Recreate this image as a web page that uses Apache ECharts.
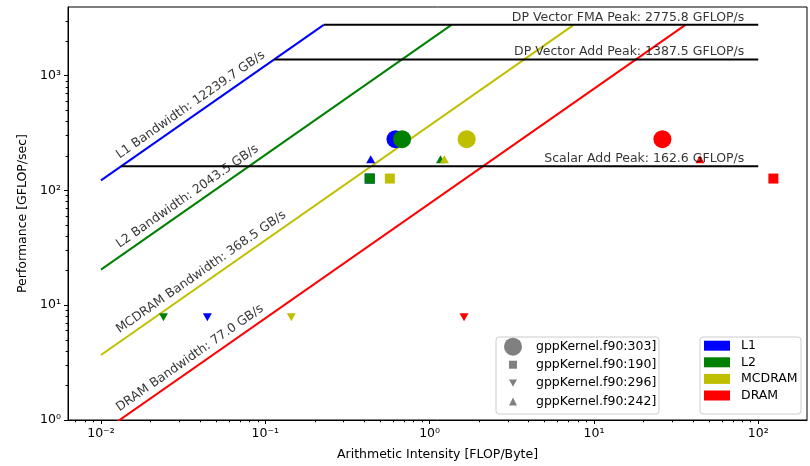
<!DOCTYPE html>
<html><head><meta charset="utf-8">
<script src="https://cdn.jsdelivr.net/npm/echarts@6/dist/echarts.min.js"></script>
<style>html,body{margin:0;padding:0;background:#fff}#c{width:810px;height:466px}</style>
</head><body><div id="c"></div>
<script>
// ---- data ----
const levels = ['L1', 'L2', 'MCDRAM', 'DRAM'];
const levelColors = ['#0000ff', '#008000', '#bfbf00', '#ff0000'];
const bandwidths = [12239.7, 2043.5, 368.5, 77.0];           // GB/s
const peakNames = ['DP Vector FMA Peak', 'DP Vector Add Peak', 'Scalar Add Peak'];
const peaks = [2775.8, 1387.5, 162.6];                        // GFLOP/s
const roofStartAI = 0.01;
const roofEndAI = 100;
const kernels = ['gppKernel.f90:303]', 'gppKernel.f90:190]', 'gppKernel.f90:296]', 'gppKernel.f90:242]'];
// arithmetic intensity per level (L1, L2, MCDRAM, DRAM) and performance
const ai303 = [0.62, 0.68, 1.68, 26.1];
const perf303 = [280, 280, 280, 280];
const ai190 = [0.432, 0.432, 0.573, 123.6];
const perf190 = [127, 127, 127, 127];
const ai296 = [0.0444, 0.0240, 0.144, 1.62];
const perf296 = [7.86, 7.86, 7.86, 7.86];
const ai242 = [0.438, 1.165, 1.23, 44.2];
const perf242 = [187.5, 187.5, 187.5, 187.5];
const xTickValues = [0.01, 0.1, 1, 10, 100];
const xTickLabels = ['10\u207B\u00B2', '10\u207B\u00B9', '10\u2070', '10\u00B9', '10\u00B2'];
const yTickValues = [1, 10, 100, 1000];
const yTickLabels = ['10\u2070', '10\u00B9', '10\u00B2', '10\u00B3'];

// ---- chart ----
const FONT = 'DejaVu Sans';
const TXT = '#000';
const FS = 12.5;
const xMin = 0.0063, xMax = 198, yMin = 1, yMax = 3970;
const gridRect = { left: 68, right: 3, top: 7, bottom: 46 };

function labelFor(values, labels) {
  return function (v) {
    for (let i = 0; i < values.length; i++) {
      if (Math.abs(Math.log10(v) - Math.log10(values[i])) < 1e-6) return labels[i];
    }
    return '';
  };
}

const series = [];
levels.forEach((name, i) => {
  const bw = bandwidths[i];
  series.push({
    type: 'line', name: name, xAxisIndex: 0, yAxisIndex: 0,
    data: [[roofStartAI, bw * roofStartAI], [peaks[0] / bw, peaks[0]]],
    showSymbol: false, symbol: 'none', color: levelColors[i],
    lineStyle: { color: levelColors[i], width: 2 }, z: 2, silent: true
  });
});
peaks.forEach((p, i) => {
  series.push({
    type: 'line', name: peakNames[i], xAxisIndex: 0, yAxisIndex: 0,
    data: [[p / bandwidths[0], p], [roofEndAI, p]],
    symbol: 'none', lineStyle: { color: '#000', width: 2 }, color: '#000', z: 2, silent: true
  });
});
const downTri = 'path://M0,0L10,0L5,9Z';
const kernelDefs = [
  { ai: ai303, perf: perf303, symbol: 'circle', size: 18 },
  { ai: ai190, perf: perf190, symbol: 'rect', size: 10 },
  { ai: ai296, perf: perf296, symbol: downTri, size: [9, 8] },
  { ai: ai242, perf: perf242, symbol: 'triangle', size: [9, 8] }
];
kernelDefs.forEach((k, ki) => {
  series.push({
    type: 'scatter', name: kernels[ki], xAxisIndex: 0, yAxisIndex: 0,
    symbol: k.symbol, symbolSize: k.size,
    itemStyle: { color: '#808080', opacity: 1 },
    data: k.ai.map((x, i) => ({ value: [x, k.perf[i]], itemStyle: { color: levelColors[i] } })),
    z: 3, silent: true
  });
});
const bwLabelAI = 0.0133;
series.push({
  type: 'scatter', xAxisIndex: 0, yAxisIndex: 0, symbolSize: 0, z: 5, silent: true,
  data: levels.map((name, i) => ({
    value: [bwLabelAI, bandwidths[i] * bwLabelAI * 1.1],
    label: {
      show: true, formatter: name + ' Bandwidth: ' + bandwidths[i].toFixed(1) + ' GB/s',
      position: [0, 0], align: 'left', verticalAlign: 'bottom', rotate: 35,
      fontFamily: FONT, fontSize: FS, color: TXT
    }
  }))
});
const peakLabelAI = 82.2;
series.push({
  type: 'scatter', xAxisIndex: 0, yAxisIndex: 0, symbolSize: 0, z: 5, silent: true,
  data: peaks.map((p, i) => ({
    value: [peakLabelAI, p],
    label: {
      show: true, formatter: peakNames[i] + ': ' + p.toFixed(1) + ' GFLOP/s',
      position: [0, 0], align: 'right', verticalAlign: 'bottom', offset: [0, -1],
      fontFamily: FONT, fontSize: FS, color: TXT
    }
  }))
});

const markerLegendRows = [346.7, 365.7, 384.2, 402.6];
const legends = kernels.map((k, i) => {
  const sz = i === 0 ? 18 : 8;
  const iconCenter = 513;
  const left = iconCenter - sz / 2;
  const pad = 536 - (left + sz + 5);
  return {
    show: true, orient: 'vertical', left: left,
    top: markerLegendRows[i] - (i === 0 ? 9 : 7.5),
    padding: 0, itemWidth: sz, itemHeight: sz,
    data: [k], selectedMode: false, z: 12,
    textStyle: { fontFamily: FONT, fontSize: FS, color: TXT, padding: [0, 0, 0, pad] }
  };
});
legends.push({
  show: true, orient: 'vertical', left: 704, top: markerLegendRows[0] - 7.5,
  padding: 0, itemWidth: 26, itemHeight: 10, itemGap: 3.6, icon: 'rect',
  data: levels, selectedMode: false, z: 12,
  textStyle: { fontFamily: FONT, fontSize: FS, color: TXT, padding: [0, 0, 0, 6] }
});

const chart = echarts.init(document.getElementById('c'), null, { renderer: 'canvas' });
chart.setOption({
  animation: false,
  backgroundColor: '#fff',
  textStyle: { fontFamily: FONT },
  grid: Object.assign({ show: true, borderColor: '#000', borderWidth: 1, containLabel: false }, gridRect),
  xAxis: {
    type: 'log', logBase: 10, min: xMin, max: xMax, position: 'bottom',
    name: 'Arithmetic Intensity [FLOP/Byte]', nameLocation: 'middle', nameGap: 28,
    nameTextStyle: { fontFamily: FONT, fontSize: FS, color: TXT },
    axisLine: { show: true, lineStyle: { color: '#000', width: 1 } },
    axisTick: { show: true, length: 4, lineStyle: { color: '#000' }, customValues: xTickValues },
    minorTick: { show: true, splitNumber: 9, length: 2.3, lineStyle: { color: '#000', width: 1 } },
    axisLabel: { show: true, margin: 7, fontFamily: FONT, fontSize: FS, color: TXT,
                 customValues: xTickValues, formatter: labelFor(xTickValues, xTickLabels) },
    splitLine: { show: false }, minorSplitLine: { show: false }
  },
  yAxis: {
    type: 'log', logBase: 10, min: yMin, max: yMax, position: 'left',
    name: 'Performance [GFLOP/sec]', nameLocation: 'middle', nameGap: 39,
    nameTextStyle: { fontFamily: FONT, fontSize: FS, color: TXT },
    axisLine: { show: true, lineStyle: { color: '#000', width: 1 } },
    axisTick: { show: true, length: 4, lineStyle: { color: '#000' }, customValues: yTickValues },
    minorTick: { show: true, splitNumber: 9, length: 2.3, lineStyle: { color: '#000', width: 1 } },
    axisLabel: { show: true, margin: 7, fontFamily: FONT, fontSize: FS, color: TXT,
                 customValues: yTickValues, formatter: labelFor(yTickValues, yTickLabels) },
    splitLine: { show: false }, minorSplitLine: { show: false }
  },
  legend: legends,
  graphic: [
    { type: 'rect', z: 10, shape: { x: 496, y: 337, width: 163, height: 77, r: 3 },
      style: { fill: 'rgba(255,255,255,0.85)', stroke: '#cccccc', lineWidth: 1 } },
    { type: 'rect', z: 10, shape: { x: 700, y: 337, width: 101, height: 77, r: 3 },
      style: { fill: 'rgba(255,255,255,0.85)', stroke: '#cccccc', lineWidth: 1 } }
  ],
  series: series
});
</script>
</body></html>
